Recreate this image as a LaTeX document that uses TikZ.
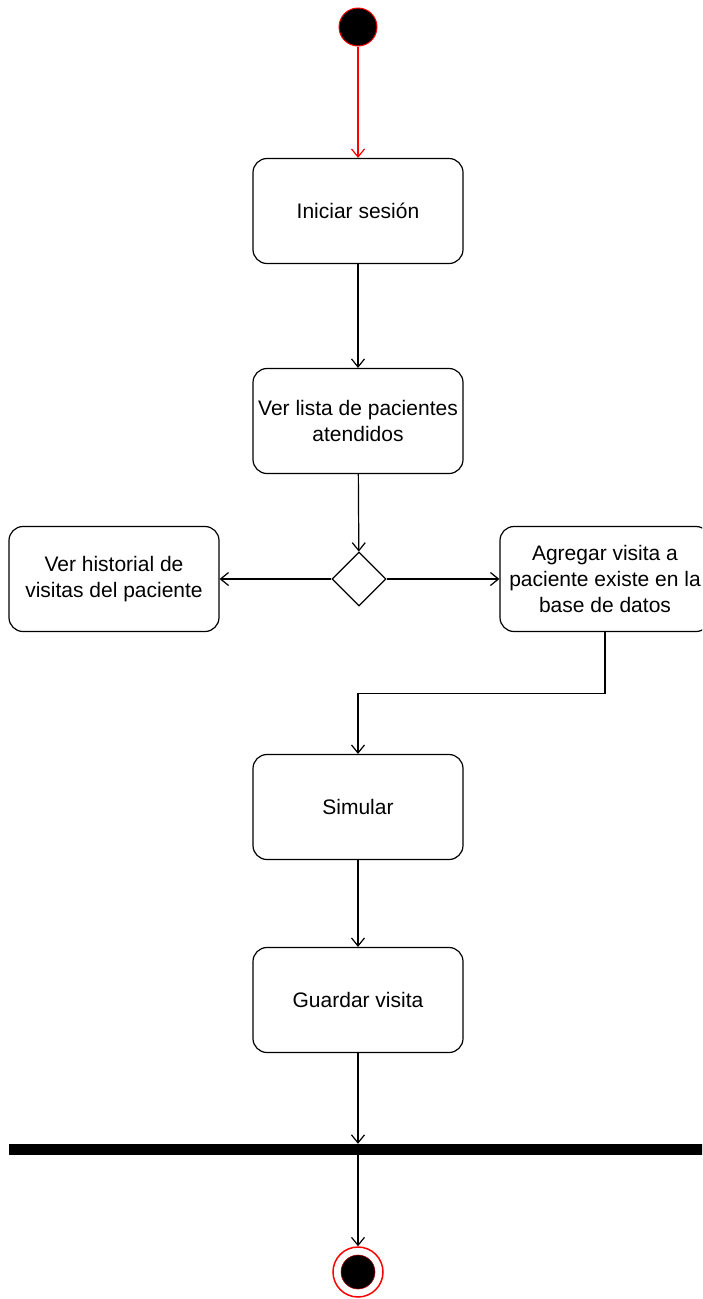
\documentclass[tikz,border=0pt]{standalone}
\usepackage{fontspec}
\setmainfont{Liberation Sans}
\usetikzlibrary{arrows.meta,shapes.geometric}

\begin{document}
\begin{tikzpicture}[x=1pt,y=-1pt,
    act/.style={draw,line width=1.2pt,rounded corners=14pt,minimum width=210pt,
      minimum height=105pt,inner sep=0pt,align=center,font=\fontsize{21}{26}\selectfont},
    flow/.style={line width=1.2pt,-{Straight Barb[length=8pt,width=13pt,line width=1.2pt]}}]
  \useasboundingbox (0,0) rectangle (702,1299);
  \clip (0,0) rectangle (702,1299);

  % start and end
  \node[circle,fill=black,draw=red,line width=1pt,minimum size=38pt,inner sep=0pt] (start) at (358,27) {};
  \node[circle,fill=white,draw=red,line width=1.5pt,minimum size=50pt,inner sep=0pt] (stop) at (358,1272) {};
  \node[circle,fill=black,draw=red!70!black,line width=0.6pt,minimum size=34pt,inner sep=0pt] (stopin) at (358,1272) {};

  % activities
  \node[act] (login) at (358,211) {Iniciar sesión};
  \node[act] (list) at (358,421) {Ver lista de pacientes\\atendidos};
  \node[diamond,draw,line width=1.2pt,minimum width=54pt,minimum height=54pt,inner sep=0pt] (dec) at (359,579) {};
  \node[act] (hist) at (114,579) {Ver historial de\\visitas del paciente};
  \node[act] (addvisit) at (605,579) {Agregar visita a\\paciente existe en la\\base de datos};
  \node[act] (sim) at (358,807) {Simular};
  \node[act] (save) at (358,1000) {Guardar visita};
  \node[fill=black,minimum width=703pt,minimum height=11pt,inner sep=0pt] (bar) at (360,1149.5) {};

  % flows
  \draw[flow,red] (start) -- (login);
  \draw[flow] (login) -- (list);
  \draw[flow] (list) -- (dec);
  \draw[flow] (dec) -- (hist);
  \draw[flow] (dec) -- (addvisit);
  \draw[flow] (addvisit.south) -- ++(0,61) -| (sim.north);
  \draw[flow] (sim) -- (save);
  \draw[flow] (save.south) -- (save.south |- bar.north);
  \draw[flow] ([yshift=3pt]bar.south -| stop.north) -- (stop);
\end{tikzpicture}
\end{document}
